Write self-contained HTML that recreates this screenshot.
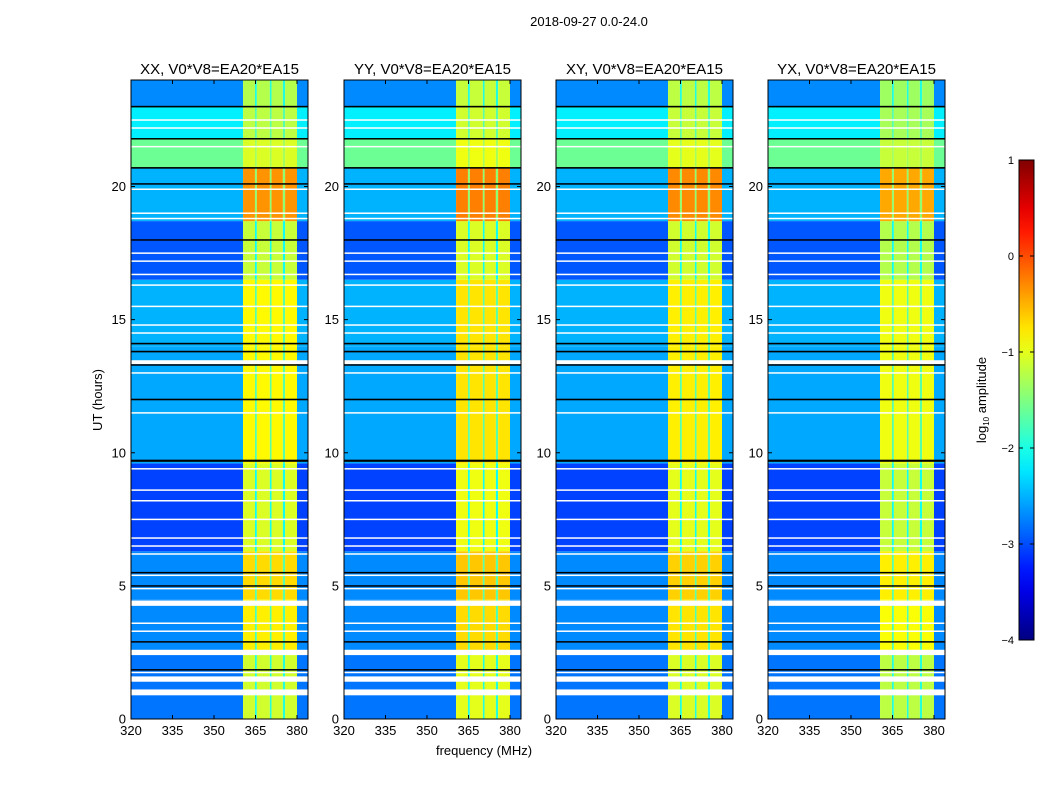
<!DOCTYPE html>
<html><head><meta charset="utf-8">
<style>
html,body{margin:0;padding:0;background:#fff;}
body{width:1050px;height:800px;overflow:hidden;font-family:"Liberation Sans",sans-serif;}
svg text{font-family:"Liberation Sans",sans-serif;}
</style></head>
<body>
<svg id="chart" width="1050" height="800" xmlns="http://www.w3.org/2000/svg">
<text x="589" y="26" font-size="13" text-anchor="middle">2018-09-27 0.0-24.0</text>
<text x="484" y="755" font-size="13" text-anchor="middle">frequency (MHz)</text>
<text transform="translate(102,400) rotate(-90)" font-size="13" text-anchor="middle">UT (hours)</text>
<g id="panels"></g>
<g id="cbar"></g>
</svg>
<script>
// ---- data ----
const panelTitles = ["XX, V0*V8=EA20*EA15","YY, V0*V8=EA20*EA15","XY, V0*V8=EA20*EA15","YX, V0*V8=EA20*EA15"];
const panelLefts = [131,344,556,768];
const xTicks = [320,335,350,365,380];
const yTicks = [0,5,10,15,20];
const cbTicks = [1,0,-1,-2,-3,-4];
const cbTickLabels = ["1","0","\u22121","\u22122","\u22123","\u22124"];
// frequency columns (MHz edges) and kind: 0=background,1=band,2=gap
const freqEdges = [320,360.5,364.8,365.5,370.2,370.8,374.9,375.7,380,384];
const colKind   = [0,1,2,1,2,1,2,1,0];
// time segments (hours) with background and band log-amplitude
const segStart = [0,2.5,4.5,6.3,9.6,14,16.5,18.7,20.7,21.8,23];
const segEnd   = [2.5,4.5,6.3,9.6,14,16.5,18.7,20.7,21.8,23,24];
const segBg    = [-2.8,-2.7,-2.7,-3.05,-2.55,-2.5,-2.95,-2.5,-1.6,-2.2,-2.7];
const segBand  = [-1.1,-0.8,-0.7,-1.05,-0.85,-0.85,-1.15,-0.35,-1.05,-1.2,-1.25];
const panelBandOffset = [0,0.1,0.05,-0.1];
const panelBgOffset = [0,0,0,0];
// flagged rows (hours, thickness in hours)
const whiteFlags = [[1.0,0.22],[1.5,0.2],[1.75,0.05],[2.5,0.2],[3.3,0.05],[3.6,0.05],[4.35,0.2],[4.9,0.05],[5.4,0.05],[6.2,0.05],[6.5,0.05],[6.8,0.05],[7.5,0.05],[8.2,0.05],[8.6,0.05],[9.4,0.05],[11.5,0.05],[13.0,0.05],[13.4,0.15],[14.5,0.05],[14.8,0.05],[15.5,0.05],[16.3,0.05],[16.7,0.05],[17.2,0.05],[17.5,0.05],[18.8,0.05],[19.0,0.05],[19.9,0.05],[21.5,0.05],[22.2,0.05],[22.5,0.05]];
const blackFlags = [[1.85,0.05],[2.9,0.05],[5.0,0.05],[5.5,0.05],[9.7,0.08],[12.0,0.06],[13.3,0.05],[13.8,0.06],[14.1,0.06],[18.0,0.04],[20.1,0.05],[20.7,0.06],[21.8,0.04],[23.0,0.06]];

// ---- scales ----
const pTop=80, pBottom=719, pw=177;
const xPerMHz = 166/60;
const yScale = h => pBottom - h*(pBottom-pTop)/24;
const cbTop=160, cbBot=640, cbX=1019, cbW=15;
const cbScale = v => cbTop + (1-v)*(cbBot-cbTop)/5;

function jet(t){
  t=Math.max(0,Math.min(1,t));
  const r=Math.max(0,Math.min(1,1.5-Math.abs(4*t-3)));
  const g=Math.max(0,Math.min(1,1.5-Math.abs(4*t-2)));
  const b=Math.max(0,Math.min(1,1.5-Math.abs(4*t-1)));
  return `rgb(${Math.round(r*255)},${Math.round(g*255)},${Math.round(b*255)})`;
}
const colorOf = v => jet((v+4)/5);
const NS="http://www.w3.org/2000/svg";
function mk(tag,attrs,parent){const e=document.createElementNS(NS,tag);for(const k in attrs)e.setAttribute(k,attrs[k]);parent.appendChild(e);return e;}

const panelsG=document.getElementById('panels');
panelLefts.forEach((L,p)=>{
  const g=mk('g',{},panelsG);
  
  
  const xS = f => L + (f-320)*xPerMHz;
  for(let s=0;s<segStart.length;s++){
    for(let c=0;c<colKind.length;c++){
      let v = colKind[c]===1 ? segBand[s]+panelBandOffset[p] : colKind[c]===2 ? (segBg[s]+segBand[s])/2 : segBg[s]+panelBgOffset[p];
      const x0=xS(freqEdges[c]), x1=Math.min(L+pw,xS(freqEdges[c+1]));
      const y0=yScale(segEnd[s]), y1=yScale(segStart[s]);
      const r=mk('rect',{x:x0,y:y0,width:x1-x0,height:y1-y0,fill:colorOf(v)},g);
      
      
    }
  }
  whiteFlags.forEach(f=>{
    const y0=yScale(f[0]+f[1]/2), y1=yScale(f[0]-f[1]/2);
    const r=mk('rect',{x:L,y:y0,width:pw,height:Math.max(1.5,y1-y0),fill:'#fff'},g);
    
    
  });
  blackFlags.forEach(f=>{
    const y0=yScale(f[0]+f[1]/2), y1=yScale(f[0]-f[1]/2);
    const r=mk('rect',{x:L,y:y0,width:pw,height:Math.max(1.5,y1-y0),fill:'#000'},g);
    
    
  });
  const fr=mk('rect',{x:L,y:pTop,width:pw,height:pBottom-pTop,fill:'none',stroke:'#000','stroke-width':1},g);
  
  
  const t=mk('text',{x:L+pw/2,y:74,'font-size':15,'text-anchor':'middle'},g);
  t.textContent=panelTitles[p];
  
  
  xTicks.forEach(v=>{
    const x=xS(v);
    mk('line',{x1:x,x2:x,y1:pBottom,y2:pBottom-4,stroke:'#000'},g);
    mk('line',{x1:x,x2:x,y1:pTop,y2:pTop+4,stroke:'#000'},g);
    const tl=mk('text',{x:x,y:pBottom+16,'font-size':13,'text-anchor':'middle'},g);
    tl.textContent=v;
    
    
  });
  yTicks.forEach(v=>{
    const y=yScale(v);
    mk('line',{x1:L,x2:L+4,y1:y,y2:y,stroke:'#000'},g);
    mk('line',{x1:L+pw,x2:L+pw-4,y1:y,y2:y,stroke:'#000'},g);
    const tl=mk('text',{x:L-5,y:y+4.5,'font-size':13,'text-anchor':'end'},g);
    tl.textContent=v;
    
    
  });
});

// colorbar
const cb=document.getElementById('cbar');


const defs=mk('defs',{},cb);
const lg=mk('linearGradient',{id:'jetg',x1:0,y1:1,x2:0,y2:0},defs);
for(let i=0;i<=20;i++){mk('stop',{offset:i/20,'stop-color':jet(i/20)},lg);}
mk('rect',{x:cbX,y:cbTop,width:cbW,height:cbBot-cbTop,fill:'url(#jetg)',stroke:'#000','stroke-width':1},cb);
cbTicks.forEach((v,i)=>{
  const y=cbScale(v);
  mk('line',{x1:cbX,x2:cbX+4,y1:y,y2:y,stroke:'#000'},cb);
  mk('line',{x1:cbX+cbW,x2:cbX+cbW-4,y1:y,y2:y,stroke:'#000'},cb);
  const tl=mk('text',{x:cbX-5,y:y+4,'font-size':11,'text-anchor':'end'},cb);
  tl.textContent=cbTickLabels[i];
  
  
});
const ct=mk('text',{transform:'translate(986,400) rotate(-90)','font-size':13,'text-anchor':'middle'},cb);


ct.appendChild(document.createTextNode('log'));
const sub=mk('tspan',{'font-size':8,dy:3},ct);
sub.textContent='10';
const rest=mk('tspan',{dy:-3},ct);
rest.textContent=' amplitude';
</script>
</body></html>
